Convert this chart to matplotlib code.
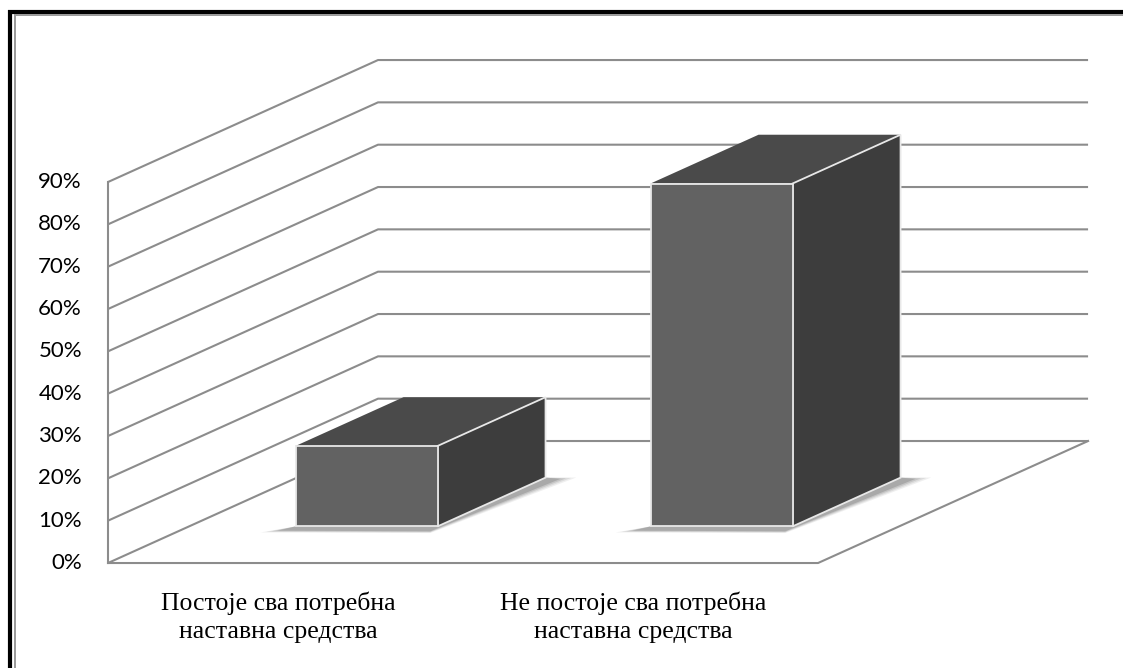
import matplotlib
matplotlib.use('Agg')

import numpy as np
import matplotlib.pyplot as plt
from matplotlib.patches import Polygon
from matplotlib.lines import Line2D

# data
categories = ['Постоје сва потребна\nнаставна средства',
              'Не постоје сва потребна\nнаставна средства']
values = [19, 81]
ticks = [0, 10, 20, 30, 40, 50, 60, 70, 80, 90]
tick_labels = ['%d%%' % t for t in ticks]

# oblique 3d projection: x in category units, v in percent, d = depth 0..1
DX = 0.7606
DY = 28.82


def proj(x, v, d):
    return (x + d * DX, v + d * DY)


W, H = 1123, 668
fig = plt.figure(figsize=(W / 100., H / 100.), dpi=100)
ax = fig.add_axes([0, 0, 1, 1])
ax.set_xlim(-0.3042, 2.859)
ax.set_ylim(-24.80, 133.0)
ax.axis('off')

ncat = len(categories)
gcol = '#8c8c8c'

# walls / gridlines
for t in ticks:
    pts = [proj(0, t, 0), proj(0, t, 1), proj(ncat, t, 1)]
    ax.plot([p[0] for p in pts], [p[1] for p in pts], color=gcol, lw=1.5,
            solid_capstyle='butt', zorder=1)
floor = [proj(0, 0, 0), proj(ncat, 0, 0), proj(ncat, 0, 1)]
ax.plot([p[0] for p in floor], [p[1] for p in floor], color=gcol, lw=1.5, zorder=1)
ax.plot([0, 0], [0, ticks[-1]], color=gcol, lw=1.5, zorder=1)

# bars
w = 0.2
d0, d1 = 0.30, 0.70
for i, v in enumerate(values):
    c = i + 0.5
    # soft shadow on the floor
    for k, a in enumerate([0.10, 0.14, 0.20, 0.30]):
        s = (3 - k) * 0.012
        shp = [proj(c - w - 0.025 - s, 0, d0 - 0.035 - s * 0.4),
               proj(c + w + 0.01 + s * 0.3, 0, d0 - 0.04 - s * 0.4),
               proj(c + w + 0.05 + s, 0, d1 - 0.01 + s * 0.3),
               proj(c + w, 0, d1),
               proj(c - w, 0, d0)]
        ax.add_patch(Polygon(shp, closed=True, fc='#6a6a6a', ec='none',
                             alpha=a, zorder=2))
    front = [proj(c - w, 0, d0), proj(c + w, 0, d0), proj(c + w, v, d0), proj(c - w, v, d0)]
    side = [proj(c + w, 0, d0), proj(c + w, 0, d1), proj(c + w, v, d1), proj(c + w, v, d0)]
    top = [proj(c - w, v, d0), proj(c + w, v, d0), proj(c + w, v, d1), proj(c - w, v, d1)]
    ax.add_patch(Polygon(top, closed=True, fc='#4a4a4a', ec='none', zorder=3))
    ax.add_patch(Polygon(side, closed=True, fc='#3d3d3d', ec='#e8e8e8', lw=1.3, zorder=3))
    ax.add_patch(Polygon(front, closed=True, fc='#626262', ec='#e8e8e8', lw=1.3, zorder=4))

# tick labels
for t, lab in zip(ticks, tick_labels):
    ax.annotate(lab, xy=proj(0, t, 0), xytext=(-26, 0), textcoords='offset pixels',
                ha='right', va='center', fontsize=16, family=['Lato', 'DejaVu Sans'],
                color='#000000')

# category labels
for i, lab in enumerate(categories):
    ax.annotate(lab, xy=proj(i + 0.5, 0, 0), xytext=(-7, -54), textcoords='offset pixels',
                ha='center', va='center', fontsize=18.5, linespacing=1.38,
                family=['Liberation Serif', 'DejaVu Serif'], color='#000000')

# outer frame (top and left, double line)
fig.add_artist(Line2D([8 / W, 1], [1 - 11.5 / H, 1 - 11.5 / H], color='black', lw=3,
                      solid_capstyle='butt', transform=fig.transFigure))
fig.add_artist(Line2D([14 / W, 1], [1 - 14.5 / H, 1 - 14.5 / H], color='#999999', lw=1.4,
                      solid_capstyle='butt', transform=fig.transFigure))
fig.add_artist(Line2D([10 / W, 10 / W], [0, 1 - 10 / H], color='black', lw=3,
                      solid_capstyle='butt', transform=fig.transFigure))
fig.add_artist(Line2D([15 / W, 15 / W], [0, 1 - 14 / H], color='#999999', lw=1.4,
                      solid_capstyle='butt', transform=fig.transFigure))

fig.savefig('out.png', dpi=100)
